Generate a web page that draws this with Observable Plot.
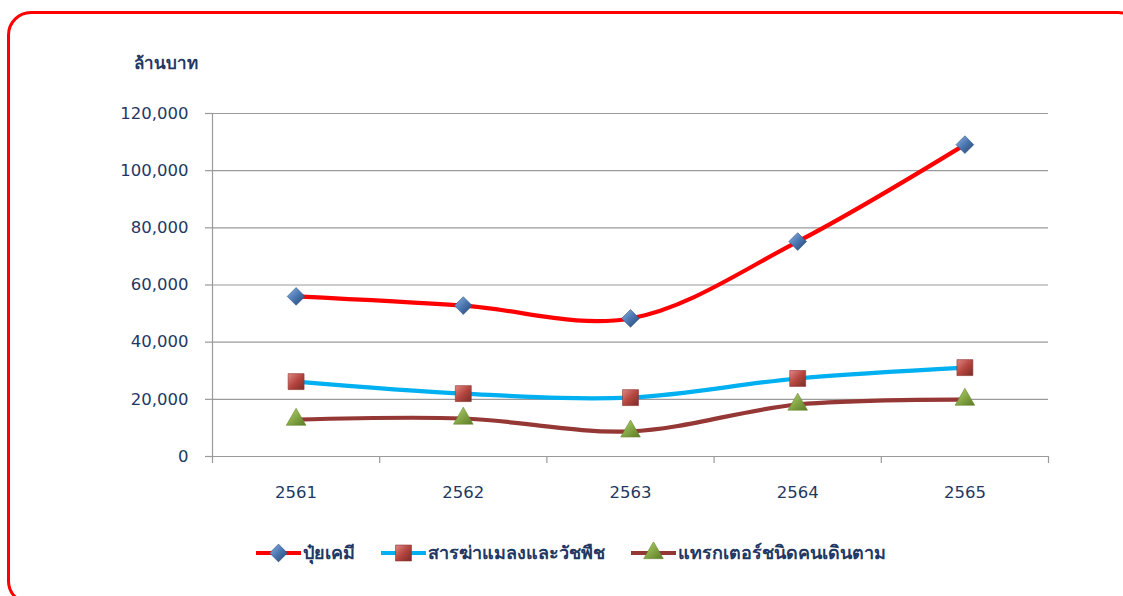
<!DOCTYPE html>
<html><head><meta charset="utf-8">
<script src="https://cdn.jsdelivr.net/npm/d3@7"></script>
<script src="https://cdn.jsdelivr.net/npm/@observablehq/plot@0.6"></script>
<style>
html,body{margin:0;padding:0;background:#fff;}
body{width:1123px;height:596px;overflow:hidden;position:relative;font-family:Tahoma,"DejaVu Sans","Noto Sans",sans-serif;}
#frame{position:absolute;left:7px;top:11px;width:1135px;height:594px;border:3px solid #ff0000;border-radius:24px;box-sizing:border-box;}
#title{position:absolute;left:134px;top:49px;font-size:17px;font-weight:bold;color:#1f3864;}
#chart{position:absolute;left:0;top:0;}
#legend{position:absolute;left:256px;top:538px;display:flex;align-items:center;font-size:18px;font-weight:bold;color:#1f3864;white-space:nowrap;}
#legend .item{display:flex;align-items:center;margin-right:26px;}
#legend svg{display:block;}
#legend span{margin-left:2px;}
</style></head>
<body>
<svg width="0" height="0" style="position:absolute">
<defs>
<linearGradient id="gDiamond" x1="0" y1="0" x2="1" y2="1">
<stop offset="0" stop-color="#8fb4e3"/><stop offset="0.5" stop-color="#4a76b0"/><stop offset="1" stop-color="#24436e"/>
</linearGradient>
<linearGradient id="gSquare" x1="0" y1="0" x2="1" y2="1">
<stop offset="0" stop-color="#e08885"/><stop offset="0.5" stop-color="#b5453f"/><stop offset="1" stop-color="#7a2b28"/>
</linearGradient>
<linearGradient id="gTriangle" x1="0" y1="0" x2="1" y2="1">
<stop offset="0" stop-color="#b9d67a"/><stop offset="0.5" stop-color="#86a846"/><stop offset="1" stop-color="#5a7a26"/>
</linearGradient>
</defs>
</svg>
<div id="frame"></div>
<div id="title">ล้านบาท</div>
<div id="chart"></div>
<div id="legend"></div>
<script>
const years = [2561, 2562, 2563, 2564, 2565];
const fertilizer = [56000, 52800, 48300, 75200, 109100];
const pesticide = [26200, 22000, 20600, 27300, 31100];
const tractor = [12900, 13300, 8800, 18200, 19900];
const seriesNames = ["ปุ๋ยเคมี", "สารฆ่าแมลงและวัชพืช", "แทรกเตอร์ชนิดคนเดินตาม"];
const seriesValues = [fertilizer, pesticide, tractor];
const lineColors = ["#ff0000", "#00b0f0", "#953735"];
const symbols = ["diamond2", "square", "triangle"];
const symbolFills = ["url(#gDiamond)", "url(#gSquare)", "url(#gTriangle)"];
const symbolStrokes = ["#2f5585", "#8c3431", "#6a8a30"];
const symbolR = [8, 9, 7.3];
const yTicks = [0, 20000, 40000, 60000, 80000, 100000, 120000];

const data = [];
seriesNames.forEach((s, i) => years.forEach((yr, j) => data.push({series: s, year: yr, value: seriesValues[i][j]})));
const boundaries = years.map(y => y - 0.5).concat([years[years.length - 1] + 0.5]);

const textColor = "#1f3864";
const fontFam = "Tahoma, 'DejaVu Sans', sans-serif";

const dotMarks = seriesNames.map((s, i) =>
  Plot.dot(data.filter(d => d.series === s), {
    x: "year", y: "value", symbol: () => symbols[i], r: symbolR[i],
    fill: symbolFills[i], stroke: symbolStrokes[i], strokeWidth: 0.6
  })
);

const chart = Plot.plot({
  width: 1123,
  height: 500,
  marginLeft: 212,
  marginRight: 75,
  marginTop: 113,
  marginBottom: 44,
  style: {fontFamily: fontFam, background: "transparent", overflow: "visible"},
  x: {type: "linear", domain: [boundaries[0], boundaries[boundaries.length - 1]], label: null},
  y: {domain: [0, 120000], label: null},
  color: {domain: seriesNames, range: lineColors},
  symbol: {domain: symbols, range: symbols},
  marks: [
    Plot.gridY(yTicks, {stroke: "#9a9a9a", strokeOpacity: 1, strokeWidth: 1.2}),
    Plot.ruleX([boundaries[0]], {y1: 0, y2: 120000, stroke: "#9a9a9a", strokeWidth: 1.2}),
    Plot.axisY({ticks: yTicks, tickSize: 7, tickFormat: () => "", label: null, stroke: "#9a9a9a", strokeWidth: 1.2}),
    Plot.axisY({ticks: yTicks, tickSize: 0, tickPadding: 24, tickFormat: d3.format(","), label: null, fill: textColor, fontSize: 16.5}),
    Plot.axisX({ticks: boundaries, tickSize: 7, tickFormat: () => "", label: null, stroke: "#9a9a9a", strokeWidth: 1.2}),
    Plot.axisX({ticks: years, tickSize: 0, tickPadding: 30, tickFormat: d => String(d), label: null, fill: textColor, fontSize: 16.5}),
    Plot.line(data, {x: "year", y: "value", z: "series", stroke: "series", strokeWidth: 4.2, curve: "catmull-rom"}),
    ...dotMarks
  ]
});
document.getElementById("chart").appendChild(chart);

// legend
const legend = d3.select("#legend");
seriesNames.forEach((s, i) => {
  const item = legend.append("div").attr("class", "item");
  const svg = item.append("svg").attr("width", 45).attr("height", 22);
  svg.append("line").attr("x1", 0).attr("x2", 45).attr("y1", 11).attr("y2", 11)
    .attr("stroke", lineColors[i]).attr("stroke-width", 4.2);
  const sym = {diamond2: d3.symbolDiamond2, square: d3.symbolSquare, triangle: d3.symbolTriangle}[symbols[i]];
  svg.append("path").attr("transform", "translate(22.5,11)")
    .attr("d", d3.symbol(sym, Math.PI * symbolR[i] * symbolR[i])())
    .attr("fill", symbolFills[i]).attr("stroke", symbolStrokes[i]).attr("stroke-width", 0.6);
  item.append("span").text(s);
});
</script>
</body></html>
